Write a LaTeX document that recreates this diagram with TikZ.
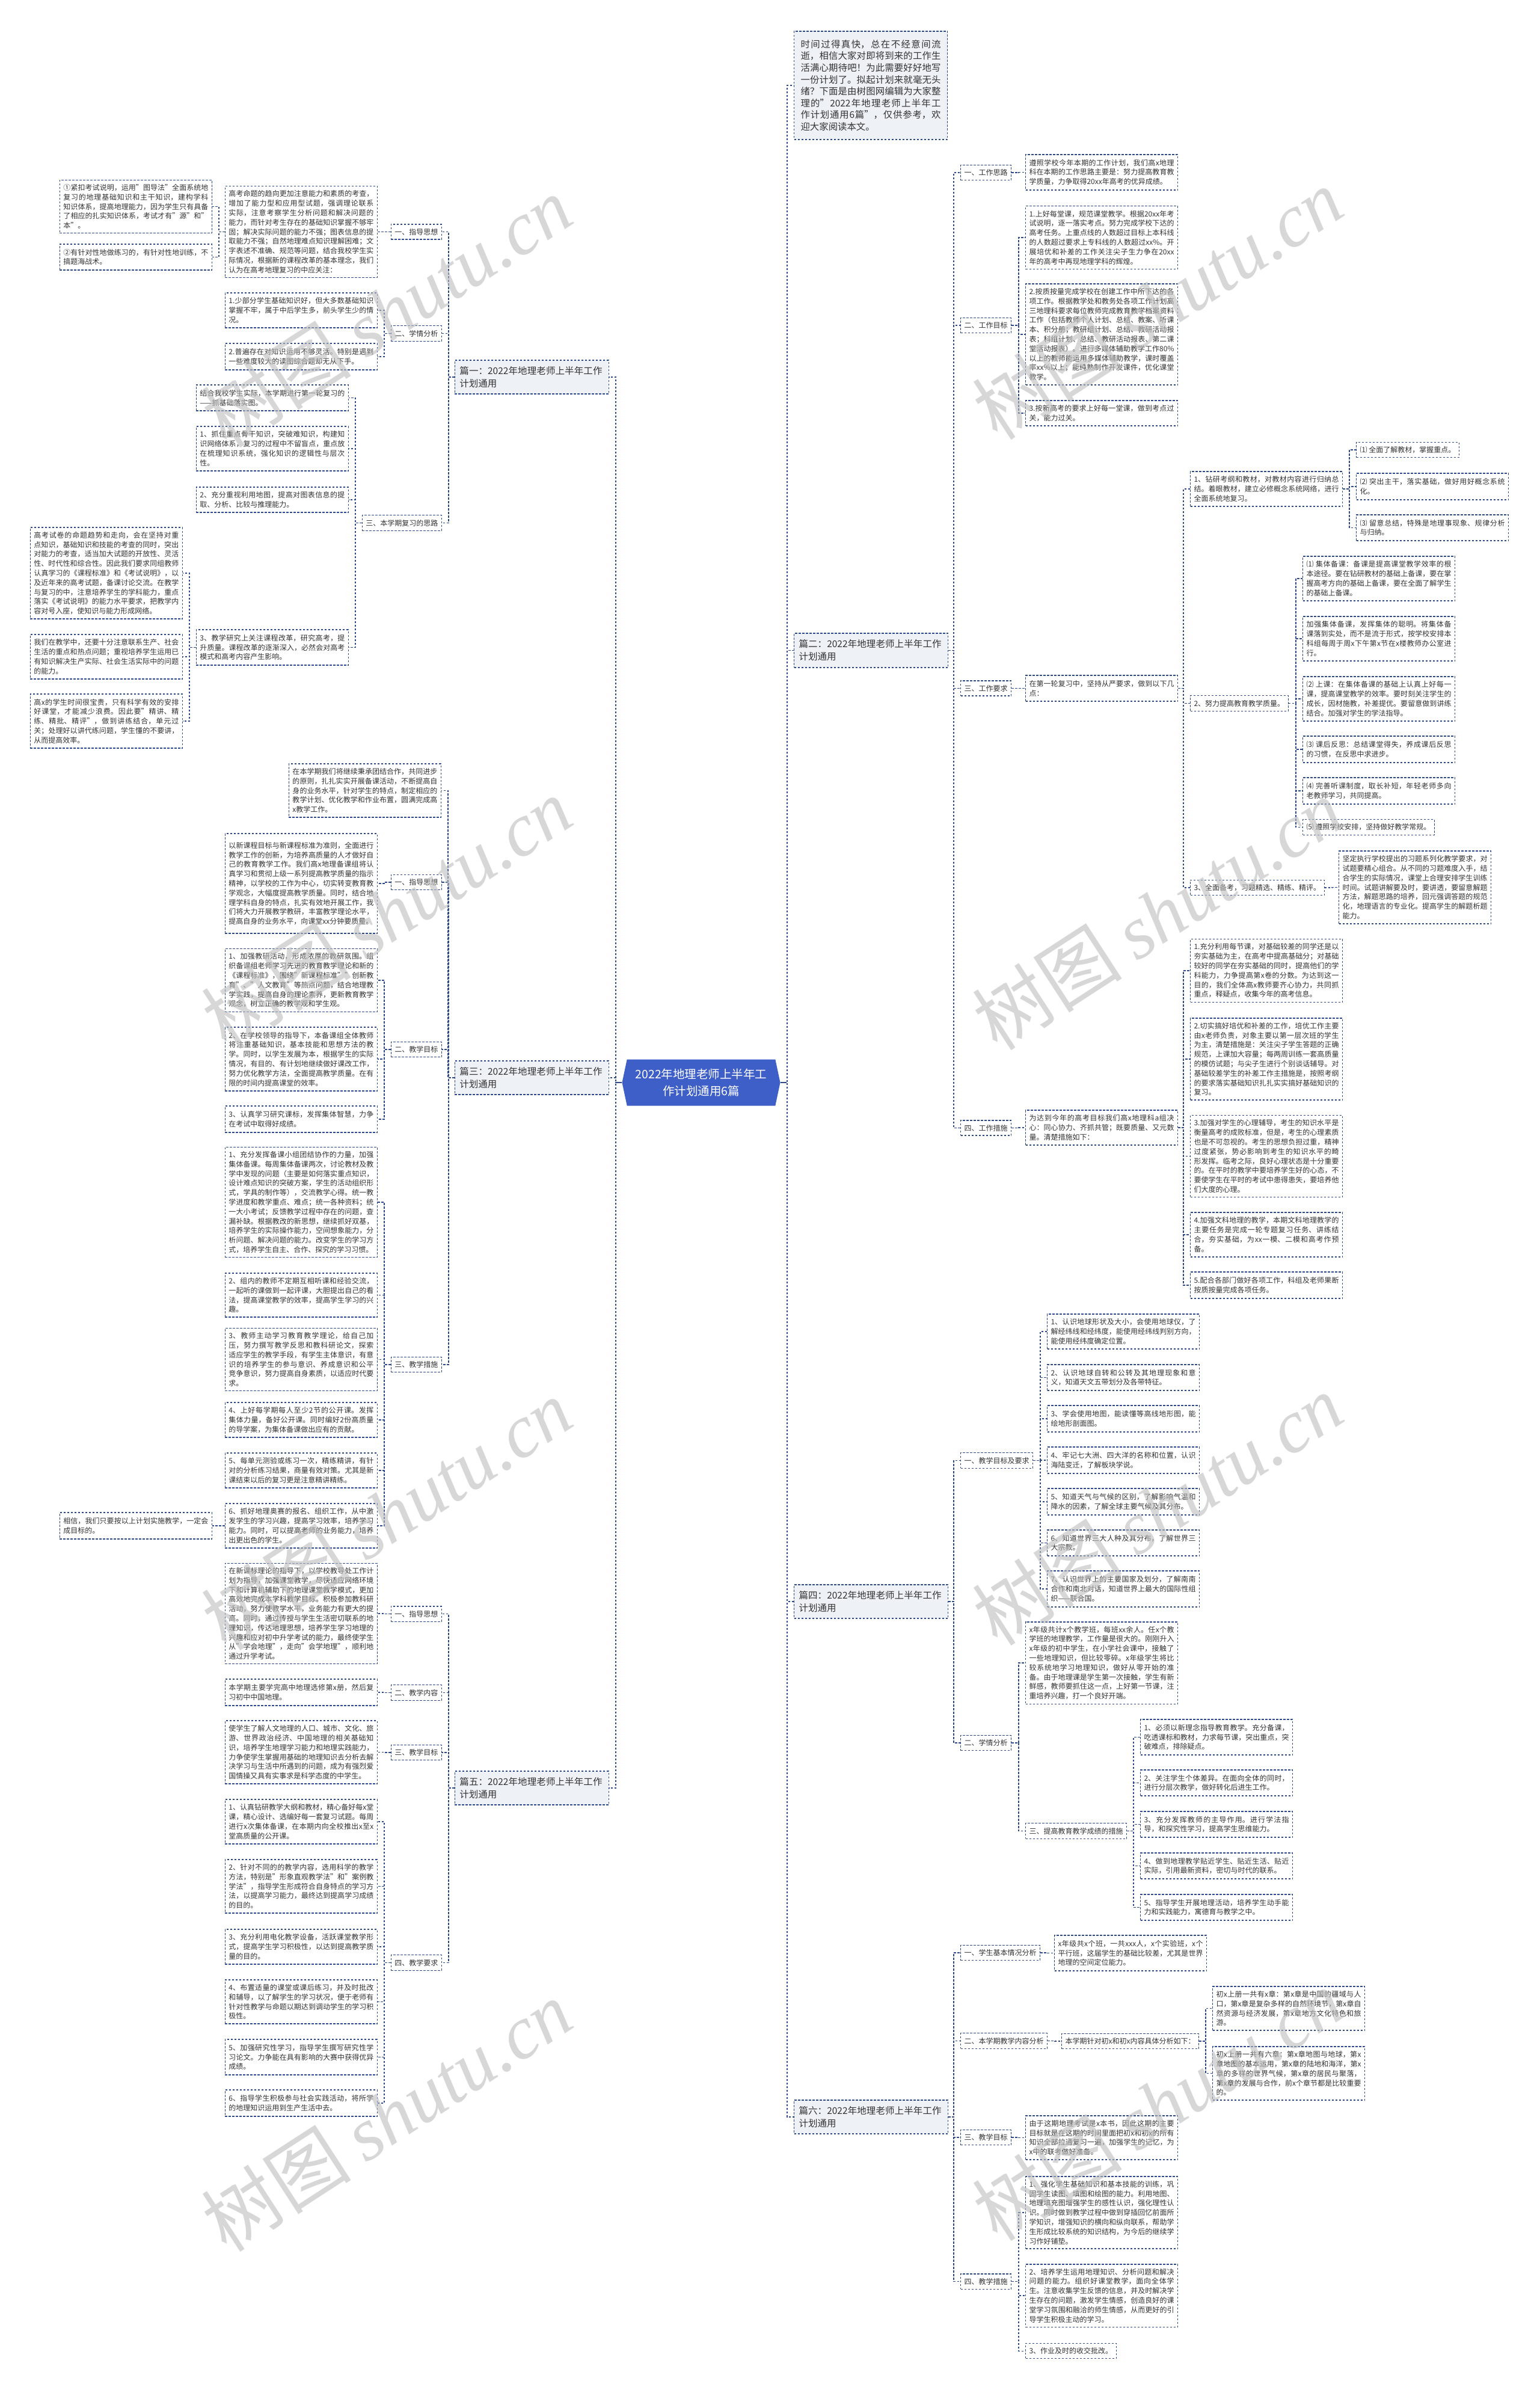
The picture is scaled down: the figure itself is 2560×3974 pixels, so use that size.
\documentclass[tikz,border=0pt]{standalone}
\usepackage{fontspec}
\usetikzlibrary{shapes.symbols}
\setmainfont{Noto Sans CJK SC}
\newfontfamily\wmserif{Liberation Serif}
\XeTeXlinebreaklocale "zh"
\XeTeXlinebreakskip=0pt plus 1pt
\definecolor{lineblue}{HTML}{2E4A8C}
\definecolor{panefill}{HTML}{EEF1F6}
\definecolor{centerblue}{HTML}{3F5FC8}
\definecolor{textc}{HTML}{333333}
\definecolor{wmgray}{HTML}{BDBDBD}
\newcommand\fsz[2]{\fontsize{#1}{#2}\selectfont}
\tikzset{
 bx/.style={draw=lineblue, line width=1.1pt, dash pattern=on 3.5pt off 2.5pt, fill=white, inner xsep=6pt, inner ysep=7pt, text=textc, font=\fsz{12}{15.8}},
 boxL/.style={bx, text width=241pt, align=justify},
 boxS/.style={bx},
 secn/.style={bx},
 piann/.style={bx, fill=panefill, text width=240pt, align=left, font=\fsz{15.5}{21}, inner xsep=8pt},
 introbox/.style={bx, fill=panefill, text width=233pt, align=justify, font=\fsz{15.4}{19.6}, inner ysep=5pt, inner xsep=11pt},
 centr/.style={signal, signal to=east and west, signal pointer angle=156, fill=centerblue, draw=none, text=white, align=center, font=\fsz{19.5}{28}, minimum height=77pt, minimum width=263pt, inner xsep=4pt, inner ysep=6pt},
 conn/.style={draw=lineblue, line width=1.1pt, dash pattern=on 3.5pt off 2.5pt},
 connsolid/.style={draw=lineblue, line width=1.4pt},
 wm/.style={text=wmgray, opacity=0.6, rotate=33, inner sep=0pt},
}
\begin{document}
\begin{tikzpicture}[x=1pt,y=-1pt]
\fill[white] (0,0) rectangle (2560,3974);
\useasboundingbox (0,0) rectangle (2560,3974);

% centre
\node[centr] (ctr) at (1166,1800) {2022年地理老师上半年工\\作计划通用6篇};

% ---------- 篇一 ----------
\node[piann, anchor=east, minimum height=56] (p1) at (1013,627) {篇一：2022年地理老师上半年工作计划通用};
\node[secn, anchor=east] (p1a) at (735,385.5) {一、指导思想};
\node[boxL, anchor=east, minimum height=151] (p1a1) at (628,385.5) {高考命题的趋向更加注意能力和素质的考查，增加了能力型和应用型试题，强调理论联系实际，注意考察学生分析问题和解决问题的能力，而针对考生存在的基础知识掌握不够牢固；解决实际问题的能力不强；图表信息的提取能力不强；自然地理难点知识理解困难；文字表述不准确、规范等问题，结合我校学生实际情况，根据新的课程改革的基本理念，我们认为在高考地理复习的中应关注：};
\node[boxL, anchor=east, minimum height=75] (p1a1a) at (353,343.5) {①紧扣考试说明，运用"图导法"全面系统地复习的地理基础知识和主干知识，建构学科知识体系，提高地理能力，因为学生只有具备了相应的扎实知识体系，考试才有"源"和"本"。};
\node[boxL, anchor=east, minimum height=43] (p1a1b) at (353,427.5) {②有针对性地做练习的，有针对性地训练，不搞题海战术。};
\node[secn, anchor=east] (p1b) at (735,554.5) {二、学情分析};
\node[boxL, anchor=east, minimum height=58] (p1b1) at (628,516) {1.少部分学生基础知识好，但大多数基础知识掌握不牢，属于中后学生多，前头学生少的情况。};
\node[boxL, anchor=east, minimum height=44] (p1b2) at (628,593) {2.普遍存在对知识运用不够灵活。特别是遇到一些难度较大的读图综合题却无从下手。};
\node[secn, anchor=east] (p1c) at (735,869.5) {三、本学期复习的思路};
\node[boxL, anchor=east, minimum height=43] (p1c1) at (580,661.5) {结合我校学生实际，本学期进行第一轮复习的——抓基础落实图。};
\node[boxL, anchor=east, minimum height=74] (p1c2) at (580,746) {1、抓住重点骨干知识，突破难知识，构建知识网络体系，复习的过程中不留盲点，重点放在梳理知识系统，强化知识的逻辑性与层次性。};
\node[boxL, anchor=east, minimum height=42] (p1c3) at (580,831) {2、充分重视利用地图，提高对图表信息的提取、分析、比较与推理能力。};
\node[boxL, anchor=east, minimum height=59] (p1c4) at (580,1076.5) {3、教学研究上关注课程改革，研究高考，提升质量。课程改革的逐渐深入，必然会对高考模式和高考内容产生影响。};
\node[boxL, anchor=east, minimum height=152] (p1c4a) at (304,953) {高考试卷的命题趋势和走向，会在坚持对重点知识，基础知识和技能的考查的同时，突出对能力的考查，适当加大试题的开放性、灵活性、时代性和综合性。因此我们要求同组教师认真学习的《课程标准》和《考试说明》，以及近年来的高考试题，备课讨论交流。在教学与复习的中，注意培养学生的学科能力，重点落实《考试说明》的能力水平要求，把教学内容对号入座，使知识与能力形成网络。};
\node[boxL, anchor=east, minimum height=74] (p1c4b) at (304,1092) {我们在教学中，还要十分注意联系生产、社会生活的重点和热点问题；重视培养学生运用已有知识解决生产实际、社会生活实际中的问题的能力。};
\node[boxL, anchor=east, minimum height=90] (p1c4c) at (304,1199) {高x的学生时间很宝贵，只有科学有效的安排好课堂，才能减少浪费。因此要"精讲、精练、精批、精评"，做到讲练结合，单元过关；处理好以讲代练问题，学生懂的不要讲，从而提高效率。};

% ---------- 篇三 ----------
\node[piann, anchor=east, minimum height=56] (p3) at (1013,1792) {篇三：2022年地理老师上半年工作计划通用};
\node[boxL, anchor=east, minimum height=89] (p3d) at (734,1314.5) {在本学期我们将继续秉承团结合作，共同进步的原则，扎扎实实开展备课活动，不断提高自身的业务水平，针对学生的特点，制定相应的教学计划、优化教学和作业布置，圆满完成高x教学工作。};
\node[secn, anchor=east] (p3a) at (735,1467) {一、指导思想};
\node[boxL, anchor=east, minimum height=166] (p3a1) at (628,1469) {以新课程目标与新课程标准为准则，全面进行教学工作的创新，为培养高质量的人才做好自己的教育教学工作。我们高x地理备课组将认真学习和贯彻上级一系列提高教学质量的指示精神，以学校的工作为中心，切实转变教育教学观念，大幅度提高教学质量。同时，结合地理学科自身的特点，扎实有效地开展工作，我们将大力开展教学教研，丰富教学理论水平，提高自身的业务水平，向课堂xx分钟要质量。};
\node[secn, anchor=east] (p3b) at (735,1745) {二、教学目标};
\node[boxL, anchor=east, minimum height=104] (p3b1) at (628,1630) {1、加强教研活动，形成浓厚的教研氛围。组织备课组老师学习先进的教育教学理论和新的《课程标准》，围绕"新课程标准""创新教育"、"人文教育"等热点问题，结合地理教学实践，提高自身的理论素养，更新教育教学观念，树立正确的教学观和学生观。};
\node[boxL, anchor=east, minimum height=106] (p3b2) at (628,1761) {2、在学校领导的指导下，本备课组全体教师将注重基础知识，基本技能和思想方法的教学。同时，以学生发展为本，根据学生的实际情况，有目的、有计划地继续做好课改工作，努力优化教学方法，全面提高教学质量。在有限的时间内提高课堂的效率。};
\node[boxL, anchor=east, minimum height=44] (p3b3) at (628,1861) {3、认真学习研究课标，发挥集体智慧，力争在考试中取得好成绩。};
\node[secn, anchor=east] (p3c) at (735,2269) {三、教学措施};
\node[boxL, anchor=east, minimum height=182] (p3c1) at (628,1999) {1、充分发挥备课小组团结协作的力量，加强集体备课。每周集体备课两次，讨论教材及教学中发现的问题（主要是如何落实重点知识，设计难点知识的突破方案，学生的活动组织形式，学具的制作等），交流教学心得。统一教学进度和教学重点、难点；统一各种资料；统一大小考试；反馈教学过程中存在的问题，查漏补缺。根据教改的新思想，继续抓好双基，培养学生的实际操作能力，空间想象能力，分析问题、解决问题的能力。改变学生的学习方式，培养学生自主、合作、探究的学习习惯。};
\node[boxL, anchor=east, minimum height=73] (p3c2) at (628,2153.5) {2、组内的教师不定期互相听课和经验交流，一起听的课做到一起评课，大胆提出自己的看法，提高课堂教学的效率，提高学生学习的兴趣。};
\node[boxL, anchor=east, minimum height=89] (p3c3) at (628,2260.5) {3、教师主动学习教育教学理论，给自己加压，努力撰写教学反思和教科研论文，探索适应学生的教学手段，有学生主体意识，有意识的培养学生的参与意识、养成意识和公平竞争意识，努力提高自身素质，以适应时代要求。};
\node[boxL, anchor=east, minimum height=58] (p3c4) at (628,2361) {4、上好每学期每人至少2节的公开课。发挥集体力量，备好公开课。同时编好2份高质量的导学案，为集体备课做出应有的贡献。};
\node[boxL, anchor=east, minimum height=58] (p3c5) at (628,2445) {5、每单元测验或练习一次，精练精讲，有针对的分析练习结果，商量有效对策。尤其是新课结束以后的复习更是注意精讲精练。};
\node[boxL, anchor=east, minimum height=74] (p3c6) at (628,2537) {6、抓好地理奥赛的报名、组织工作，从中激发学生的学习兴趣，提高学习效率，培养学习能力。同时，可以提高老师的业务能力，培养出更出色的学生。};
\node[boxL, anchor=east, minimum height=44] (p3c6a) at (353,2537) {相信，我们只要按以上计划实施教学，一定会成目标的。};

% ---------- 篇五 ----------
\node[piann, anchor=east, minimum height=56] (p5) at (1013,2973) {篇五：2022年地理老师上半年工作计划通用};
\node[secn, anchor=east] (p5a) at (735,2683.5) {一、指导思想};
\node[boxL, anchor=east, minimum height=166] (p5a1) at (628,2683) {在新课标理论的指导下，以学校教导处工作计划为指导，加强课堂教学，尽快适应网络环境下和计算机辅助下的地理课堂教学模式，更加高效地完成本学科教学目标。积极参加教科研活动，努力使教学水平，业务能力有更大的提高。同时，通过传授与学生生活密切联系的地理知识，传达地理思想，培养学生学习地理的兴趣和应对初中升学考试的能力，最终使学生从"学会地理"，走向"会学地理"，顺利地通过升学考试。};
\node[secn, anchor=east] (p5b) at (735,2814.5) {二、教学内容};
\node[boxL, anchor=east, minimum height=44] (p5b1) at (628,2814) {本学期主要学完高中地理选修第x册，然后复习初中中国地理。};
\node[secn, anchor=east] (p5c) at (735,2914) {三、教学目标};
\node[boxL, anchor=east, minimum height=105] (p5c1) at (628,2913.5) {使学生了解人文地理的人口、城市、文化、旅游、世界政治经济、中国地理的相关基础知识，培养学生地理学习能力和地理实践能力，力争使学生掌握用基础的地理知识去分析去解决学习与生活中所遇到的问题，成为有强烈爱国情操又具有实事求是科学态度的中学生。};
\node[secn, anchor=east] (p5d) at (735,3263.5) {四、教学要求};
\node[boxL, anchor=east, minimum height=74] (p5d1) at (628,3029) {1、认真钻研教学大纲和教材，精心备好每x堂课，精心设计、选编好每一套复习试题。每周进行x次集体备课，在本期内向全校推出x至x堂高质量的公开课。};
\node[boxL, anchor=east, minimum height=89] (p5d2) at (628,3136.5) {2、针对不同的的教学内容，选用科学的教学方法，特别是"形象直观教学法"和"案例教学法"，指导学生形成符合自身特点的学习方法，以提高学习能力，最终达到提高学习成绩的目的。};
\node[boxL, anchor=east, minimum height=58] (p5d3) at (628,3237) {3、充分利用电化教学设备，活跃课堂教学形式，提高学生学习积极性，以达到提高教学质量的目的。};
\node[boxL, anchor=east, minimum height=73] (p5d4) at (628,3328.5) {4、布置适量的课堂或课后练习，并及时批改和辅导，以了解学生的学习状况，便于老师有针对性教学与命题以期达到调动学生的学习积极性。};
\node[boxL, anchor=east, minimum height=59] (p5d5) at (628,3420.5) {5、加强研究性学习，指导学生撰写研究性学习论文。力争能在具有影响的大赛中获得优异成绩。};
\node[boxL, anchor=east, minimum height=44] (p5d6) at (628,3497) {6、指导学生积极参与社会实践活动，将所学的地理知识运用到生产生活中去。};

% ---------- intro ----------
\node[introbox, anchor=west, minimum height=180] (i0) at (1320,142) {时间过得真快，总在不经意间流逝，相信大家对即将到来的工作生活满心期待吧！为此需要好好地写一份计划了。拟起计划来就毫无头绪？下面是由树图网编辑为大家整理的"2022年地理老师上半年工作计划通用6篇"，仅供参考，欢迎大家阅读本文。};

% ---------- 篇二 ----------
\node[piann, anchor=west, minimum height=57] (p2) at (1320,1081.5) {篇二：2022年地理老师上半年工作计划通用};
\node[secn, anchor=west] (r2a) at (1597,287) {一、工作思路};
\node[boxL, anchor=west, minimum height=59] (r2a1) at (1705,286.5) {遵照学校今年本期的工作计划，我们高x地理科在本期的工作思路主要是：努力提高教育教学质量，力争取得20xx年高考的优异成绩。};
\node[secn, anchor=west] (r2b) at (1597,541) {二、工作目标};
\node[boxL, anchor=west, minimum height=104] (r2b1) at (1705,395) {1.上好每堂课，规范课堂教学。根据20xx年考试说明，逐一落实考点。努力完成学校下达的高考任务。上重点线的人数超过目标上本科线的人数超过要求上专科线的人数超过xx\%。开展培优和补差的工作关注尖子生力争在20xx年的高考中再现地理学科的辉煌。};
\node[boxL, anchor=west, minimum height=168] (r2b2) at (1705,556) {2.按质按量完成学校在创建工作中所下达的各项工作。根据教学处和教务处各项工作计划高三地理科要求每位教师完成教育教学档案资料工作（包括教师个人计划、总结、教案、听课本、积分册；教研组计划、总结、教研活动报表；科组计划、总结、教研活动报表、第二课堂活动报表）。进行多媒体辅助教学工作80\%以上的教师能运用多媒体辅助教学，课时覆盖率xx\%以上；能纯熟制作开发课件，优化课堂教学。};
\node[boxL, anchor=west, minimum height=42] (r2b3) at (1705,687) {3.按新高考的要求上好每一堂课，做到考点过关，能力过关。};
\node[secn, anchor=west] (r2c) at (1597,1144.5) {三、工作要求};
\node[boxL, anchor=west, minimum height=43] (r2c1) at (1705,1144.5) {在第一轮复习中，坚持从严要求，做到以下几点：};
\node[boxL, anchor=west, minimum height=58] (q1) at (1979,813) {1、钻研考纲和教材，对教材内容进行归纳总结。着眼教材，建立必修概念系统网络，进行全面系统地复习。};
\node[boxS, anchor=west] (q1a) at (2255,748) {⑴ 全面了解教材，掌握重点。};
\node[boxL, anchor=west, minimum height=44] (q1b) at (2255,809) {⑵ 突出主干，落实基础，做好用好概念系统化。};
\node[boxL, anchor=west, minimum height=43] (q1c) at (2255,877.5) {⑶ 留意总结，特殊是地理事现象、规律分析与归纳。};
\node[boxS, anchor=west] (q2) at (1979,1169.5) {2、努力提高教育教学质量。};
\node[boxL, anchor=west, minimum height=74] (q2a) at (2166,962) {⑴ 集体备课：备课是提高课堂教学效率的根本途径。要在钻研教材的基础上备课，要在掌握高考方向的基础上备课，要在全面了解学生的基础上备课。};
\node[boxL, anchor=west, minimum height=74] (q2b) at (2166,1062) {加强集体备课，发挥集体的聪明。将集体备课落到实处，而不是流于形式，按学校安排本科组每周于周x下午第x节在x楼教师办公室进行。};
\node[boxL, anchor=west, minimum height=74] (q2c) at (2166,1162) {⑵ 上课：在集体备课的基础上认真上好每一课，提高课堂教学的效率。要时刻关注学生的成长，因材施教，补差提优。要留意做到讲练结合。加强对学生的学法指导。};
\node[boxL, anchor=west, minimum height=44] (q2d) at (2166,1246) {⑶ 课后反思：总结课堂得失，养成课后反思的习惯，在反思中求进步。};
\node[boxL, anchor=west, minimum height=44] (q2e) at (2166,1315) {⑷ 完善听课制度，取长补短，年轻老师多向老教师学习，共同提高。};
\node[boxS, anchor=west] (q2f) at (2166,1375.5) {⑸ 遵照学校安排，坚持做好教学常规。};
\node[boxS, anchor=west] (q3) at (1979,1476) {3、全面备考，习题精选、精练、精评。};
\node[boxL, anchor=west, minimum height=121] (q3a) at (2226,1475.5) {坚定执行学校提出的习题系列化教学要求，对试题要精心组合。从不同的习题难度入手，结合学生的实际情况，课堂上合理安排学生训练时间。试题讲解要及时，要讲透，要留意解题方法，解题思路的培养，回元强调答题的规范化，地理语言的专业化。提高学生的解题析题能力。};
\node[secn, anchor=west] (r2d) at (1597,1875.5) {四、工作措施};
\node[boxL, anchor=west, minimum height=58] (r2d1) at (1705,1875) {为达到今年的高考目标我们高x地理科a组决心：同心协力、齐抓共管；既要质量、又元数量。清楚措施如下：};
\node[boxL, anchor=west, minimum height=104] (s1) at (1979,1614) {1.充分利用每节课，对基础较差的同学还是以夯实基础为主，在高考中提高基础分；对基础较好的同学在夯实基础的同时，提高他们的学科能力，力争提高第x卷的分数。为达到这一目的，我们全体高x教师要齐心协力，共同抓重点，释疑点，收集今年的高考信息。};
\node[boxL, anchor=west, minimum height=136] (s2) at (1979,1761) {2.切实搞好培优和补差的工作，培优工作主要由x老师负责，对象主要以第一层次班的学生为主，清楚措施是：关注尖子学生答题的正确规范，上课加大容量；每两周训练一套高质量的模仿试题；与尖子生进行个别谈话辅导。对基础较差学生的补差工作主措施是，按照考纲的要求落实基础知识扎扎实实搞好基础知识的复习。};
\node[boxL, anchor=west, minimum height=135] (s3) at (1979,1922.5) {3.加强对学生的心理辅导，考生的知识水平是衡量高考的成败标准，但是，考生的心理素质也是不可忽视的。考生的思想负担过重，精神过度紧张，势必影响到考生的知识水平的畸形发挥。临考之际，良好心理状态是十分重要的。在平时的教学中要培养学生好的心态，不要使学生在平时的考试中患得患失，要培养他们大度的心理。};
\node[boxL, anchor=west, minimum height=74] (s4) at (1979,2053) {4.加强文科地理的教学，本期文科地理教学的主要任务是完成一轮专题复习任务、讲练结合，夯实基础，为xx一模、二模和高考作预备。};
\node[boxL, anchor=west, minimum height=44] (s5) at (1979,2137) {5.配合各部门做好各项工作，科组及老师果断按质按量完成各项任务。};

% ---------- 篇四 ----------
\node[piann, anchor=west, minimum height=56] (p4) at (1320,2663) {篇四：2022年地理老师上半年工作计划通用};
\node[secn, anchor=west] (r4a) at (1597,2428.5) {一、教学目标及要求};
\node[boxL, anchor=west, minimum height=58] (r4a1) at (1741,2214) {1、认识地球形状及大小，会使用地球仪，了解经纬线和经纬度，能使用经纬线判别方向，能使用经纬度确定位置。};
\node[boxL, anchor=west, minimum height=43] (r4a2) at (1741,2290.5) {2、认识地球自转和公转及其地理现象和意义，知道天文五带划分及各带特征。};
\node[boxL, anchor=west, minimum height=44] (r4a3) at (1741,2359) {3、学会使用地图，能读懂等高线地形图，能绘地形剖面图。};
\node[boxL, anchor=west, minimum height=44] (r4a4) at (1741,2428) {4、牢记七大洲、四大洋的名称和位置，认识海陆变迁，了解板块学说。};
\node[boxL, anchor=west, minimum height=44] (r4a5) at (1741,2497) {5、知道天气与气候的区别，了解影响气温和降水的因素，了解全球主要气候及其分布。};
\node[boxL, anchor=west, minimum height=43] (r4a6) at (1741,2565.5) {6、知道世界三大人种及其分布，了解世界三大宗教。};
\node[boxL, anchor=west, minimum height=60] (r4a7) at (1741,2642) {7、认识世界上的主要国家及划分，了解南南合作和南北对话，知道世界上最大的国际性组织——联合国。};
\node[secn, anchor=west] (r4b) at (1597,2898) {二、学情分析};
\node[boxL, anchor=west, minimum height=136] (r4b1) at (1705,2765) {x年级共计x个教学班，每班xx余人。任x个教学班的地理教学，工作量是很大的。刚刚升入x年级的初中学生，在小学社会课中，接触了一些地理知识，但比较零碎。x年级学生将比较系统地学习地理知识，做好从零开始的准备。由于地理课是学生第一次接触，学生有新鲜感，教师要抓住这一点，上好第一节课，注重培养兴趣，打一个良好开端。};
\node[secn, anchor=west] (r4b2) at (1705,3044.5) {三、提高教育教学成绩的措施};
\node[boxL, anchor=west, minimum height=59] (r4b2a) at (1896,2888.5) {1、必须以新理念指导教育教学。充分备课，吃透课标和教材，力求每节课，突出重点，突破难点，排除疑点。};
\node[boxL, anchor=west, minimum height=43] (r4b2b) at (1896,2964.5) {2、关注学生个体差异。在面向全体的同时，进行分层次教学，做好转化后进生工作。};
\node[boxL, anchor=west, minimum height=43] (r4b2c) at (1896,3033.5) {3、充分发挥教师的主导作用。进行学法指导，和探究性学习，提高学生思维能力。};
\node[boxL, anchor=west, minimum height=43] (r4b2d) at (1896,3102.5) {4、做到地理教学贴近学生、贴近生活、贴近实际，引用最新资料，密切与时代的联系。};
\node[boxL, anchor=west, minimum height=43] (r4b2e) at (1896,3171.5) {5、指导学生开展地理活动，培养学生动手能力和实践能力，寓德育与教学之中。};

% ---------- 篇六 ----------
\node[piann, anchor=west, minimum height=56] (p6) at (1320,3520) {篇六：2022年地理老师上半年工作计划通用};
\node[secn, anchor=west] (r6a) at (1597,3247) {一、学生基本情况分析};
\node[boxL, anchor=west, minimum height=59] (r6a1) at (1753,3247.5) {x年级共x个班，一共xxx人，x个实验班，x个平行班，这届学生的基础比较差，尤其是世界地理的空间定位能力。};
\node[secn, anchor=west] (r6b) at (1597,3393.5) {二、本学期教学内容分析};
\node[boxS, anchor=west] (r6b1) at (1765,3394) {本学期针对初x和初x内容具体分析如下：};
\node[boxL, anchor=west, minimum height=73] (r6b1a) at (2016,3339.5) {初x上册一共有x章：第x章是中国的疆域与人口，第x章是复杂多样的自然环境节，第x章自然资源与经济发展，第x章地方文化特色和旅游。};
\node[boxL, anchor=west, minimum height=89] (r6b1b) at (2016,3447.5) {初x上册一共有六章：第x章地图与地球，第x章地图的基本运用，第x章的陆地和海洋，第x章的多样的世界气候，第x章的居民与聚落，第x章的发展与合作，前x个章节都是比较重要的。};
\node[secn, anchor=west] (r6c) at (1597,3554) {三、教学目标};
\node[boxL, anchor=west, minimum height=73] (r6c1) at (1705,3554.5) {由于这期地理考试是x本书，因此这期的主要目标就是在这期的时间里面把初x和初x的所有知识全部拉通复习一遍，加强学生的记忆，为x中的联考做好准备。};
\node[secn, anchor=west] (r6d) at (1597,3793.5) {四、教学措施};
\node[boxL, anchor=west, minimum height=120] (r6d1) at (1705,3679) {1、强化学生基础知识和基本技能的训练，巩固学生读图、填图和绘图的能力。利用地图、地理填充图增强学生的感性认识，强化理性认识。同时做到教学过程中做到穿插回忆前面所学知识，增强知识的横向和纵向联系，帮助学生形成比较系统的知识结构，为今后的继续学习作好铺垫。};
\node[boxL, anchor=west, minimum height=104] (r6d2) at (1705,3817) {2、培养学生运用地理知识、分析问题和解决问题的能力。组织好课堂教学，面向全体学生。注意收集学生反馈的信息，并及时解决学生存在的问题，激发学生情感，创造良好的课堂学习氛围和融洽的师生情感，从而更好的引导学生积极主动的学习。};
\node[boxS, anchor=west] (r6d3) at (1705,3909) {3、作业及时的收交批改。};

% ---------- connectors (left side) ----------
\foreach \a/\b in {ctr/p1,ctr/p3,ctr/p5,
  p1/p1a,p1/p1b,p1/p1c,p1a/p1a1,p1a1/p1a1a,p1a1/p1a1b,p1b/p1b1,p1b/p1b2,
  p1c/p1c1,p1c/p1c2,p1c/p1c3,p1c/p1c4,p1c4/p1c4a,p1c4/p1c4b,p1c4/p1c4c,
  p3/p3d,p3/p3a,p3/p3b,p3/p3c,p3a/p3a1,p3b/p3b1,p3b/p3b2,p3b/p3b3,
  p3c/p3c1,p3c/p3c2,p3c/p3c3,p3c/p3c4,p3c/p3c5,p3c/p3c6,p3c6/p3c6a,
  p5/p5a,p5/p5b,p5/p5c,p5/p5d,p5a/p5a1,p5b/p5b1,p5c/p5c1,
  p5d/p5d1,p5d/p5d2,p5d/p5d3,p5d/p5d4,p5d/p5d5,p5d/p5d6}
  \draw[conn] (\a.west) -| ([xshift=11pt]\b.east) -- (\b.east);

% ---------- connectors (right side) ----------
\foreach \a/\b in {ctr/i0,ctr/p2,ctr/p4,ctr/p6,
  p2/r2a,p2/r2b,p2/r2c,p2/r2d,r2a/r2a1,r2b/r2b1,r2b/r2b2,r2b/r2b3,
  r2c/r2c1,r2c1/q1,r2c1/q2,r2c1/q3,q1/q1a,q1/q1b,q1/q1c,
  q2/q2a,q2/q2b,q2/q2c,q2/q2d,q2/q2e,q2/q2f,q3/q3a,
  r2d/r2d1,r2d1/s1,r2d1/s2,r2d1/s3,r2d1/s4,r2d1/s5,
  p4/r4a,p4/r4b,r4a/r4a1,r4a/r4a2,r4a/r4a3,r4a/r4a4,r4a/r4a5,r4a/r4a6,r4a/r4a7,
  r4b/r4b1,r4b/r4b2,r4b2/r4b2a,r4b2/r4b2b,r4b2/r4b2c,r4b2/r4b2d,r4b2/r4b2e,
  p6/r6a,p6/r6b,p6/r6c,p6/r6d,r6a/r6a1,r6b/r6b1,r6b1/r6b1a,r6b1/r6b1b,
  r6c/r6c1,r6d/r6d1,r6d/r6d2,r6d/r6d3}
  \draw[conn] (\a.east) -| ([xshift=-11pt]\b.west) -- (\b.west);

% solid stubs at the centre node
\draw[connsolid] (ctr.west) -- ([xshift=-11pt]ctr.west);
\draw[connsolid] (ctr.east) -- ([xshift=10pt]ctr.east);

% ---------- watermarks ----------
\foreach \n/\px/\py in {1/643/518,2/643/1518,3/643/2518,4/643/3518,5/1925/505,6/1925/1520,7/1925/2510,8/1925/3500}
  \node[wm] (wm\n) at (\px,\py) {\fsz{125}{125}树图\hspace{0.2em}{\wmserif\itshape shutu.cn}};
\end{tikzpicture}
\end{document}
